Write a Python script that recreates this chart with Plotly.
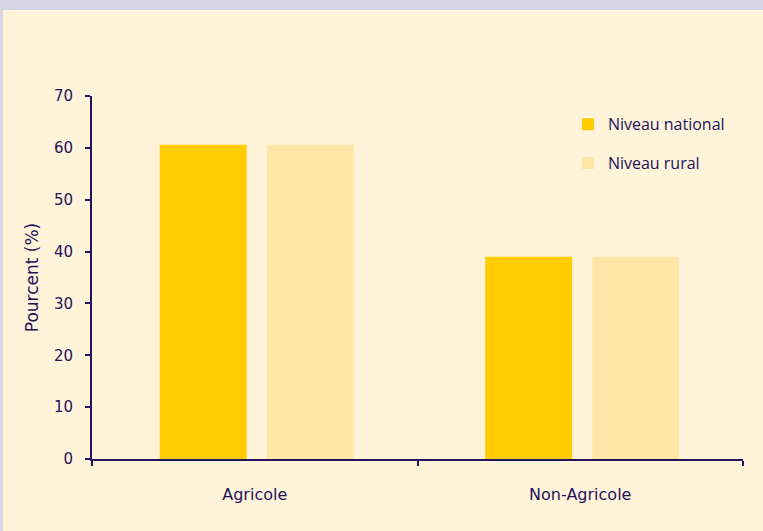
import plotly.graph_objects as go

categories = ["Agricole", "Non-Agricole"]
national = [60.6, 39.0]
rural = [60.6, 39.0]
y_ticks = [0, 10, 20, 30, 40, 50, 60, 70]

INK = "#24125C"
FONT = "DejaVu Sans"

fig = go.Figure()
fig.add_trace(go.Bar(name="Niveau national", x=categories, y=national,
                     width=0.267, offset=-0.292,
                     marker=dict(color="#FFCC00", line=dict(width=0)), legendgroup="a"))
fig.add_trace(go.Bar(name="Niveau rural", x=categories, y=rural,
                     width=0.267, offset=0.037,
                     marker=dict(color="#FFE6A6", line=dict(width=0)), legendgroup="b"))

fig.add_shape(type="rect", xref="paper", yref="paper",
              x0=-0.1367, x1=1.2, y0=-0.3, y1=1.2369,
              fillcolor="#FFF4DA", line=dict(width=0), layer="below")

fig.update_layout(
    width=763, height=531,
    margin=dict(l=92, r=20, t=96, b=72),
    paper_bgcolor="#D8D5E5",
    plot_bgcolor="rgba(0,0,0,0)",
    barmode="group",
    font=dict(family=FONT, size=15, color=INK),
    showlegend=True,
    legend=dict(x=0.731, y=0.969, xanchor="left", yanchor="top",
                bgcolor="rgba(0,0,0,0)", font=dict(family="Open Sans", size=16, color=INK),
                tracegroupgap=15, traceorder="grouped", itemwidth=30),
    xaxis=dict(showline=True, linecolor=INK, linewidth=2,
               ticks="outside", tickson="boundaries", ticklen=5, tickwidth=2, tickcolor=INK,
               ticklabelstandoff=20,
               showgrid=False, tickfont=dict(size=16, color=INK)),
    yaxis=dict(range=[0, 70], tickvals=y_ticks, showline=True, linecolor=INK, linewidth=2,
               ticks="outside", ticklen=5, tickwidth=2, tickcolor=INK, ticklabelstandoff=9,
               showgrid=False, zeroline=False, tickfont=dict(size=15, color=INK),
               title=dict(text="Pourcent (%)", font=dict(size=17, color=INK), standoff=11)),
)

fig.write_html("out.html", config={"displayModeBar": False},
               post_script="document.body.style.margin='0';")
